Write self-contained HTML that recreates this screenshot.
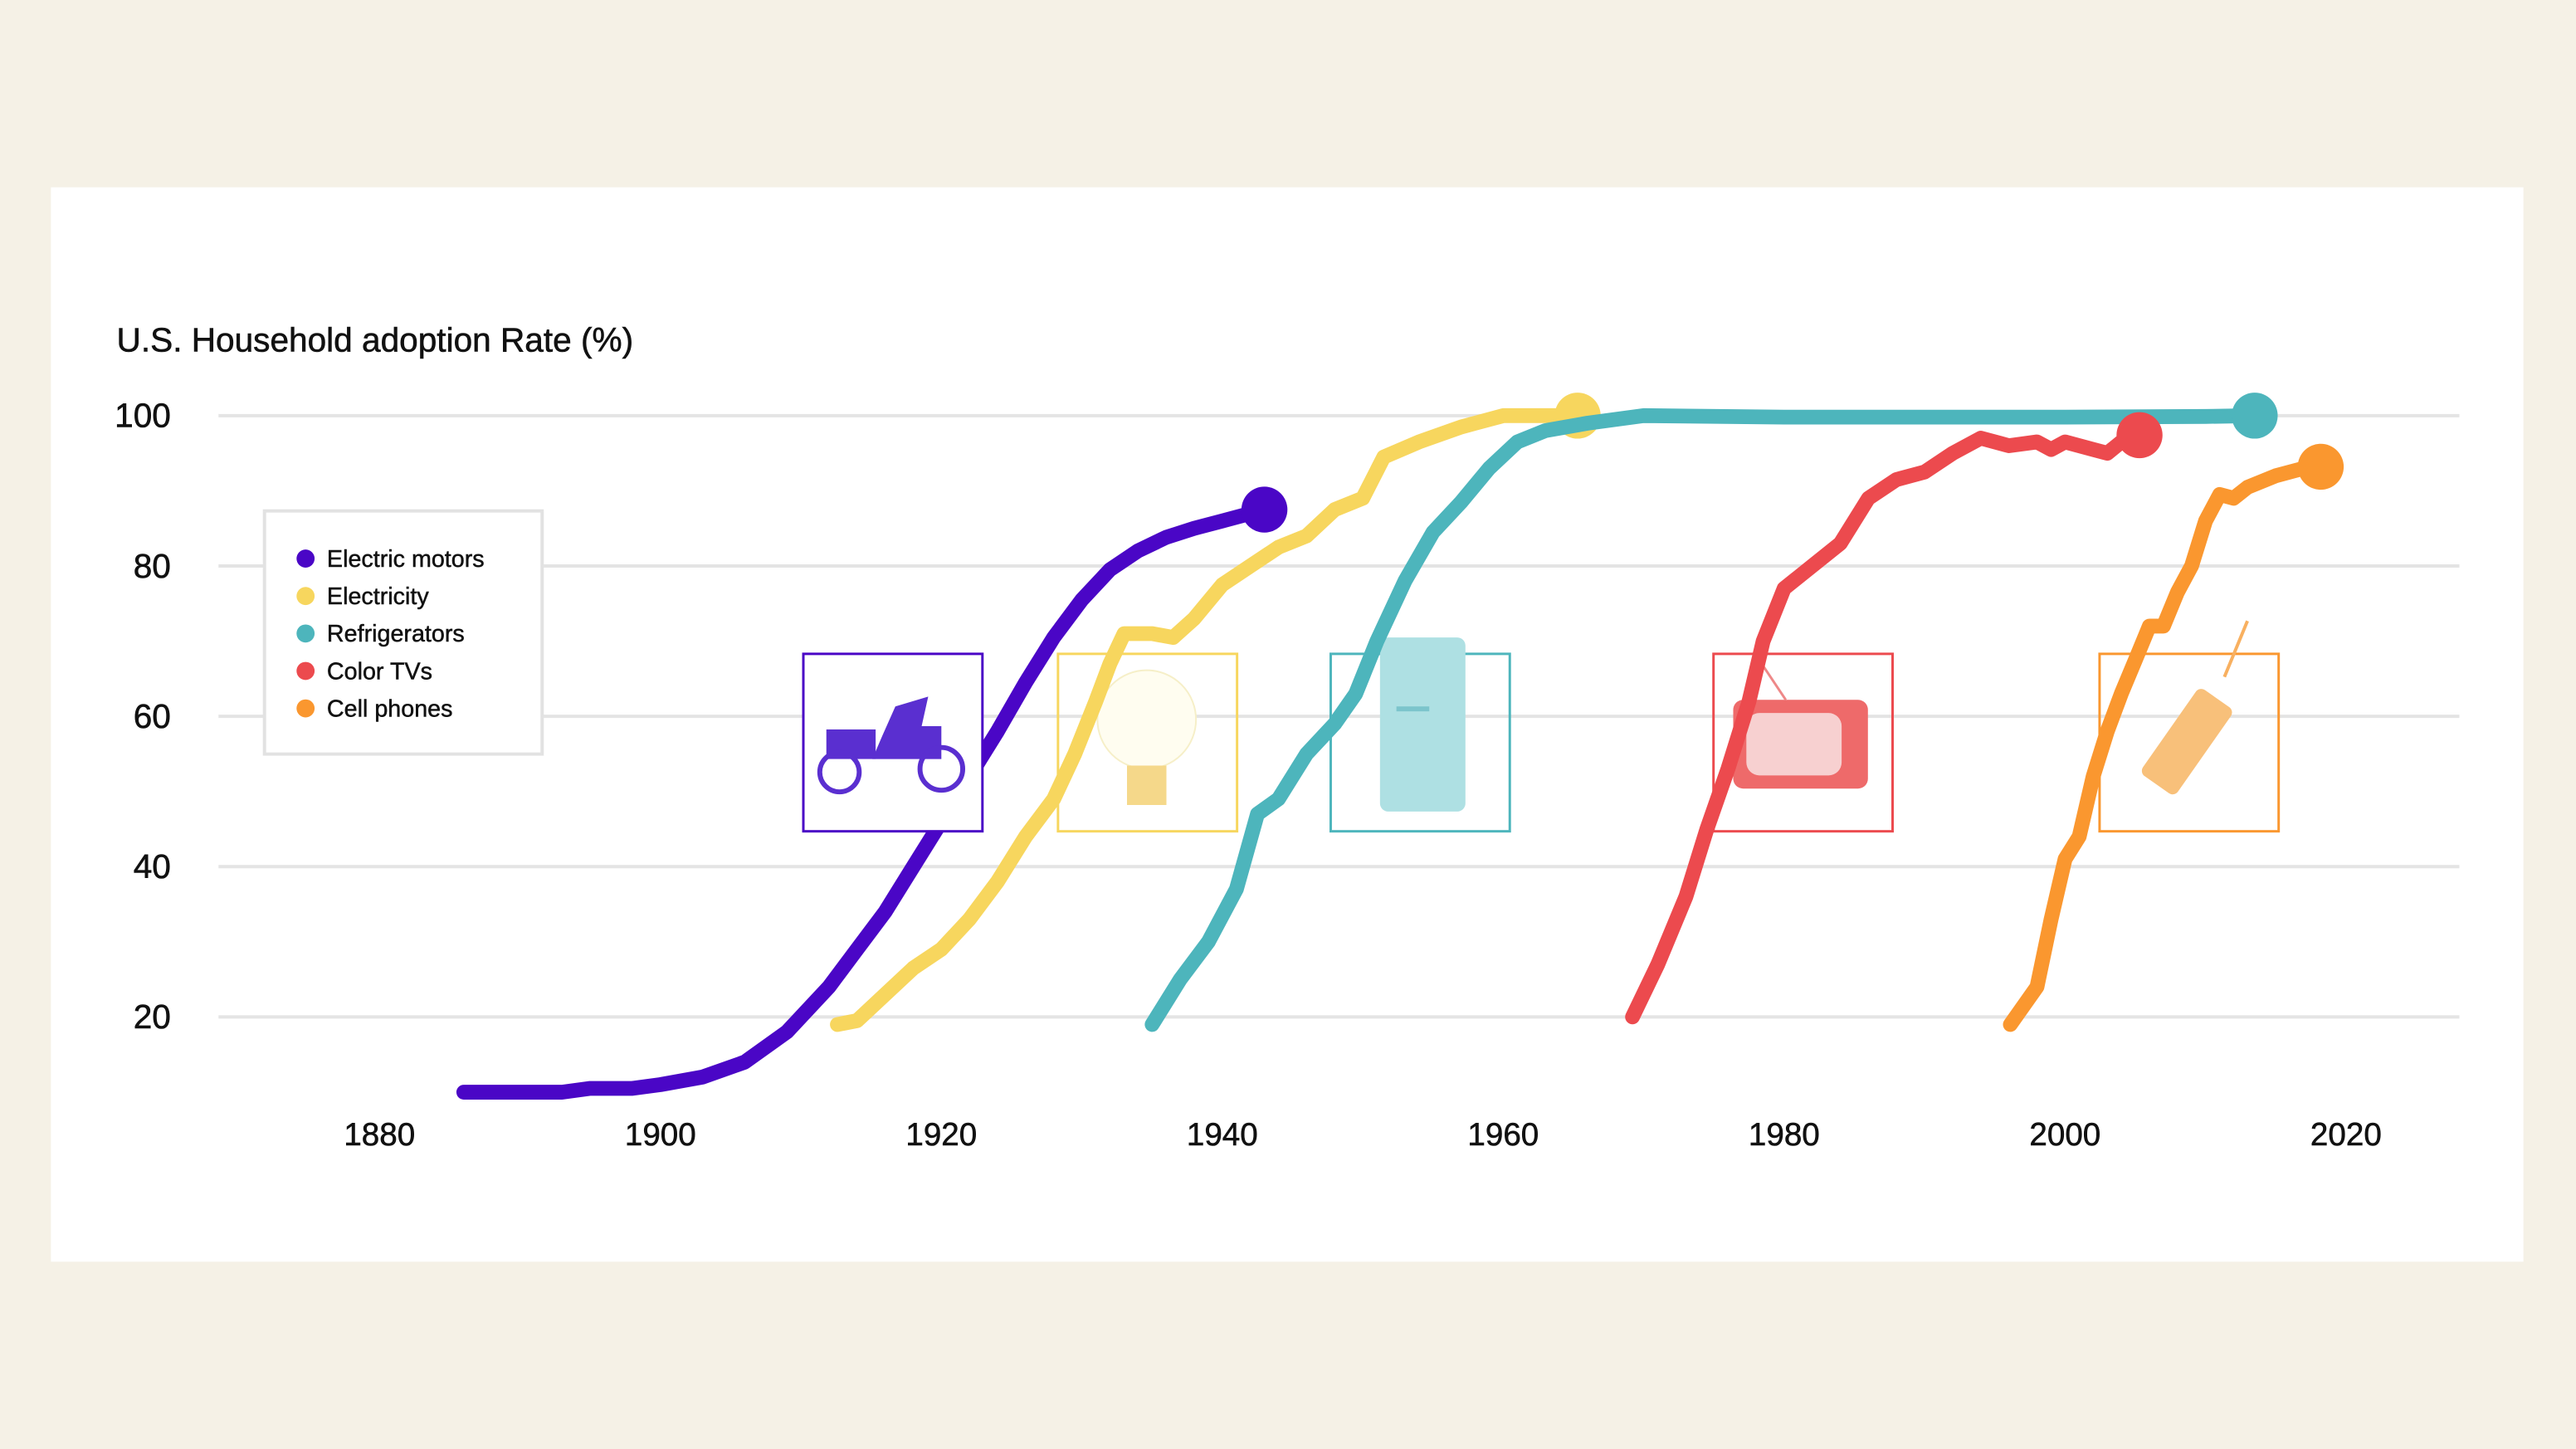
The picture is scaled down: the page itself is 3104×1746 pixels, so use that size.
<!DOCTYPE html>
<html><head><meta charset="utf-8">
<style>
html,body{margin:0;padding:0;background:#f5f1e6;}
svg{display:block;font-family:"Liberation Sans",sans-serif;}
</style></head>
<body>
<svg id="chart" width="3104" height="1746" viewBox="0 0 1568 882" xmlns="http://www.w3.org/2000/svg">
<rect x="0" y="0" width="1568" height="882" fill="#f5f1e6"/>
<rect x="31" y="114" width="1505" height="654" fill="#ffffff"/>
<text x="71" y="214" font-size="20.5" fill="#111" stroke="#111" stroke-width="0.3">U.S. Household adoption Rate (%)</text>
<g id="grid"></g>
<g id="xticks"></g>
<g id="boxesBehind"></g>
<g id="lines"></g>
<g id="boxesFront"></g>
<g id="legend">
  <rect x="161" y="311" width="169" height="148" fill="#fff" stroke="#e2e2e2" stroke-width="2"/>
</g>
</svg>
<script>
const yTicks = [20, 40, 60, 80, 100];
const xTicks = [1880, 1900, 1920, 1940, 1960, 1980, 2000, 2020];
const seriesNames = ["Electric motors","Electricity","Refrigerators","Color TVs","Cell phones"];
const seriesColors = ["#4a06c6","#f7d65e","#4db5bc","#ec4a4e","#fa972f"];
const motorsData = [[1886,10],[1893,10],[1895,10.5],[1898,10.5],[1900,11],[1903,12],[1906,14],[1909,18],[1912,24],[1914,29],[1916,34],[1918,40],[1920,46],[1922,52],[1924,58],[1926,64.5],[1928,70.5],[1930,75.5],[1932,79.5],[1934,82],[1936,83.8],[1938,85],[1940,86],[1943,87.5]];
const electricityData = [[1912.6,19],[1914,19.5],[1916,23],[1918,26.5],[1920,29],[1922,33],[1924,38],[1926,44],[1928,49],[1929.5,55],[1931,62],[1932,67],[1933,71],[1935,71],[1936.5,70.5],[1938,73],[1940,77.5],[1942,80],[1944,82.5],[1946,84],[1948,87.5],[1950,89],[1951.5,94.5],[1954,96.5],[1957,98.5],[1960,100],[1965.3,100]];
const fridgeData = [[1935,19],[1937,25],[1939,30],[1941,37],[1942.5,47],[1944,49],[1946,55],[1948,59],[1949.5,63],[1951,70],[1953,78],[1955,84.5],[1957,88.5],[1959,93],[1961,96.5],[1963,98],[1966,99],[1970,100],[1980,99.8],[1990,99.8],[2000,99.8],[2010,99.9],[2013.5,100]];
const tvData = [[1969.2,20],[1971,27],[1973,36],[1974.5,45],[1976,53],[1977.5,62],[1978.5,70],[1980,77],[1982,80],[1984,83],[1986,89],[1988,91.5],[1990,92.5],[1992,95],[1994,97],[1996,96],[1998,96.5],[1999,95.5],[2000,96.5],[2002,95.5],[2003,95],[2004,96.5],[2005.3,97.4]];
const cellData = [[1996.1,19],[1998,24],[1999,33],[2000,41],[2001,44],[2002,52],[2003,58],[2004,63],[2005,67.5],[2006,72],[2007,72],[2008,76.5],[2009,80],[2010,86],[2011,89.5],[2012,89],[2013,90.5],[2015,92],[2017,93],[2018.2,93.2]];
const allData = [motorsData, electricityData, fridgeData, tvData, cellData];

const NS = "http://www.w3.org/2000/svg";
function xs(year){ return 231 + (year - 1880) * 8.55; }
function ys(v){ return 619 - (v - 20) * 4.575; }
function mk(tag, attrs, parent){ const e=document.createElementNS(NS,tag); for(const k in attrs) e.setAttribute(k, attrs[k]); parent.appendChild(e); return e; }

const grid = document.getElementById('grid');
yTicks.forEach(t=>{
  const l = mk('line',{x1:133,x2:1497,y1:ys(t),y2:ys(t),stroke:'#e4e4e4','stroke-width':2},grid);
  
  
  const tx = mk('text',{x:104,y:ys(t)+7,'text-anchor':'end','font-size':20.5,fill:'#111',stroke:'#111','stroke-width':0.3},grid);
  tx.textContent = t;
  
  
});
const xt = document.getElementById('xticks');
xTicks.forEach(t=>{
  const tx = mk('text',{x:xs(t),y:697,'text-anchor':'middle','font-size':19.5,fill:'#111',stroke:'#111','stroke-width':0.3},xt);
  tx.textContent = t;
  
  
});

const behind = document.getElementById('boxesBehind');
const front = document.getElementById('boxesFront');
const boxX = [489, 644, 810, 1043, 1278];
boxX.forEach((bx,i)=>{
  const parent = i===0 ? front : behind;
  const g = mk('g',{},parent);
  
  
  mk('rect',{x:bx,y:398,width:109,height:108,fill: i===0?'#fff':'none',stroke:seriesColors[i],'stroke-width':1.5},g);
  const cx = bx+54, cy = 452;
  if(i===0){
    mk('rect',{x:cx-40,y:cy-8,width:30,height:18,fill:'#5a2fd0'},g);
    mk('path',{d:`M${cx-12} ${cy+10} L${cx+30} ${cy+10} L${cx+30} ${cy-10} L${cx+18} ${cy-10} L${cx+22} ${cy-28} L${cx+2} ${cy-22} L${cx-6} ${cy-4} Z`,fill:'#5a2fd0'},g);
    mk('circle',{cx:cx-32,cy:cy+18,r:12,fill:'none',stroke:'#5a2fd0','stroke-width':3},g);
    mk('circle',{cx:cx+30,cy:cy+16,r:13,fill:'none',stroke:'#5a2fd0','stroke-width':3},g);
  } else if(i===1){
    mk('circle',{cx:cx,cy:cy-14,r:30,fill:'#fffdf0',stroke:'#f6efc8','stroke-width':1},g);
    mk('rect',{x:cx-12,y:cy+14,width:24,height:24,fill:'#f5d88a'},g);
  } else if(i===2){
    mk('rect',{x:cx-24,y:388,width:52,height:106,rx:5,fill:'#aee0e3'},g);
    mk('rect',{x:cx-14,y:cy-22,width:20,height:3,fill:'#7cc5cc'},g);
  } else if(i===3){
    mk('rect',{x:cx-42,y:cy-26,width:82,height:54,rx:6,fill:'#ee6a6a'},g);
    mk('rect',{x:cx-34,y:cy-18,width:58,height:38,rx:8,fill:'#f7d0d0'},g);
    mk('line',{x1:cx-10,y1:cy-26,x2:cx-26,y2:cy-50,stroke:'#e88','stroke-width':1.5},g);
  } else {
    mk('rect',{x:cx-14,y:cy-32,width:26,height:64,rx:4,fill:'#f8c07a',transform:`rotate(35 ${cx} ${cy})`},g);
    mk('line',{x1:cx+22,y1:cy-40,x2:cx+36,y2:cy-74,stroke:'#f8b060','stroke-width':2},g);
  }
});

const lines = document.getElementById('lines');
allData.forEach((data,i)=>{
  const d = data.map((p,j)=>(j?'L':'M')+xs(p[0]).toFixed(1)+' '+ys(p[1]).toFixed(1)).join(' ');
  const path = mk('path',{d:d,fill:'none',stroke:seriesColors[i],'stroke-width':9,'stroke-linejoin':'round','stroke-linecap':'round'},lines);
  
  
  const last = data[data.length-1];
  const dot = mk('circle',{cx:xs(last[0]),cy:ys(last[1]),r:14,fill:seriesColors[i]},lines);
  
  
});

const legend = document.getElementById('legend');
seriesNames.forEach((n,i)=>{
  const y = 340 + i*22.8;
  const g = mk('g',{},legend);
  
  
  mk('circle',{cx:186,cy:y,r:5.5,fill:seriesColors[i]},g);
  const t = mk('text',{x:199,y:y+5,'font-size':14.5,fill:'#111',stroke:'#111','stroke-width':0.25},g);
  t.textContent = n;
});
</script>
</body></html>
